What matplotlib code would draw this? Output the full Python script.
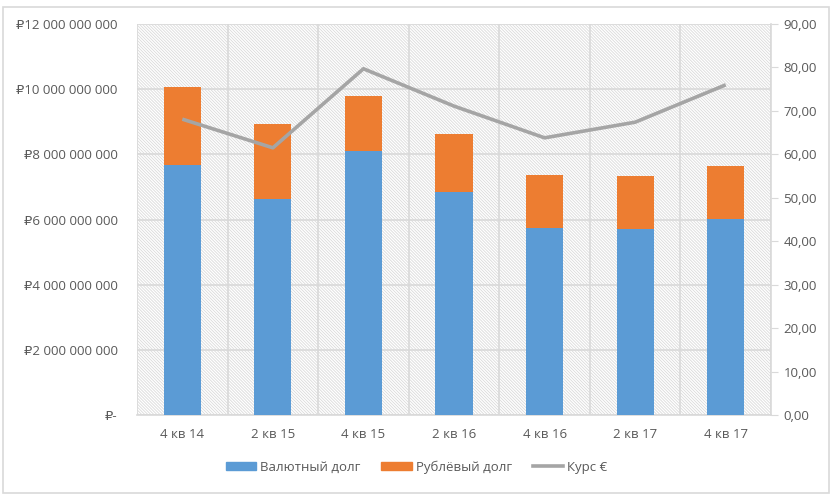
import numpy as np
import matplotlib.pyplot as plt
from matplotlib.patches import Rectangle, Patch
from matplotlib.lines import Line2D

plt.rcParams['font.family'] = ['Open Sans', 'DejaVu Sans']
plt.rcParams['hatch.linewidth'] = 0.6

# data
quarters = ['4 кв 14', '2 кв 15', '4 кв 15', '2 кв 16', '4 кв 16', '2 кв 17', '4 кв 17']
fx_debt = [7.67e9, 6.63e9, 8.10e9, 6.84e9, 5.74e9, 5.71e9, 6.02e9]
rub_debt = [2.40e9, 2.30e9, 1.69e9, 1.78e9, 1.63e9, 1.63e9, 1.62e9]
eur_rate = [68.1, 61.5, 79.7, 71.1, 63.8, 67.4, 76.0]

blue = '#5b9bd5'
orange = '#ed7d31'
gray_line = '#a5a5a5'
grid_c = '#d9d9d9'
text_c = '#595959'

fig = plt.figure(figsize=(8.33, 4.96), dpi=100)
fig.patches.append(Rectangle((0.004, 0.006), 0.991, 0.98, transform=fig.transFigure,
                             facecolor='none', edgecolor=grid_c, lw=1.2))

ax = fig.add_axes([0.1645, 0.1633, 0.7611, 0.7883])
x = np.arange(len(quarters))

# hatched plot area
ax.add_patch(Rectangle((0, 0), 1, 1, transform=ax.transAxes, facecolor='white',
                       edgecolor='#dadada', hatch='\\' * 11, lw=0, zorder=0))

ax.bar(x, fx_debt, width=0.41, color=blue, zorder=3)
ax.bar(x, rub_debt, width=0.41, bottom=fx_debt, color=orange, zorder=3)

ax.set_xlim(-0.5, len(quarters) - 0.5)
ax.set_ylim(0, 12e9)
ax.set_yticks(np.arange(0, 12.01e9, 2e9))
ax.set_yticklabels(['₽-'] + ['₽{:,.0f}'.format(v).replace(',', ' ')
                             for v in np.arange(2e9, 12.01e9, 2e9)])
ax.set_xticks(x)
ax.set_xticklabels(quarters)
ax.set_xticks(np.arange(-0.5, len(quarters), 1), minor=True)
ax.grid(axis='y', color=grid_c, lw=1.2, zorder=1)
ax.grid(axis='x', which='minor', color=grid_c, lw=1.2, zorder=1)
ax.tick_params(axis='both', which='both', length=0, colors=text_c, labelsize=9.5)
ax.tick_params(axis='y', pad=14)
ax.tick_params(axis='x', pad=9)
for s in ['top', 'left', 'right']:
    ax.spines[s].set_visible(False)
ax.spines['bottom'].set_color(grid_c)
ax.spines['bottom'].set_linewidth(1.2)

ax2 = ax.twinx()
ax2.plot(x, eur_rate, color=gray_line, lw=2.6, zorder=4, solid_capstyle='butt')
ax2.set_ylim(0, 90)
ax2.set_yticks(np.arange(0, 91, 10))
ax2.set_yticklabels(['{:.2f}'.format(v).replace('.', ',') for v in np.arange(0, 91, 10)])
ax2.tick_params(axis='y', length=5, color=grid_c, colors=text_c, labelsize=9.5, pad=4)
ax2.tick_params(axis='y', color=grid_c)
for s in ['top', 'left', 'bottom']:
    ax2.spines[s].set_visible(False)
ax2.spines['right'].set_color(grid_c)
ax2.spines['right'].set_linewidth(1.2)

handles = [Patch(color=blue), Patch(color=orange), Line2D([], [], color=gray_line, lw=2.6)]
fig.legend(handles, ['Валютный долг', 'Рублёвый долг', 'Курс €'], loc='center',
           bbox_to_anchor=(0.5, 0.058), ncol=3, frameon=False, fontsize=9.5,
           labelcolor=text_c, handlelength=2.3, handleheight=0.6, columnspacing=1.6,
           handletextpad=0.3)

fig.savefig('out.png', dpi=100)
